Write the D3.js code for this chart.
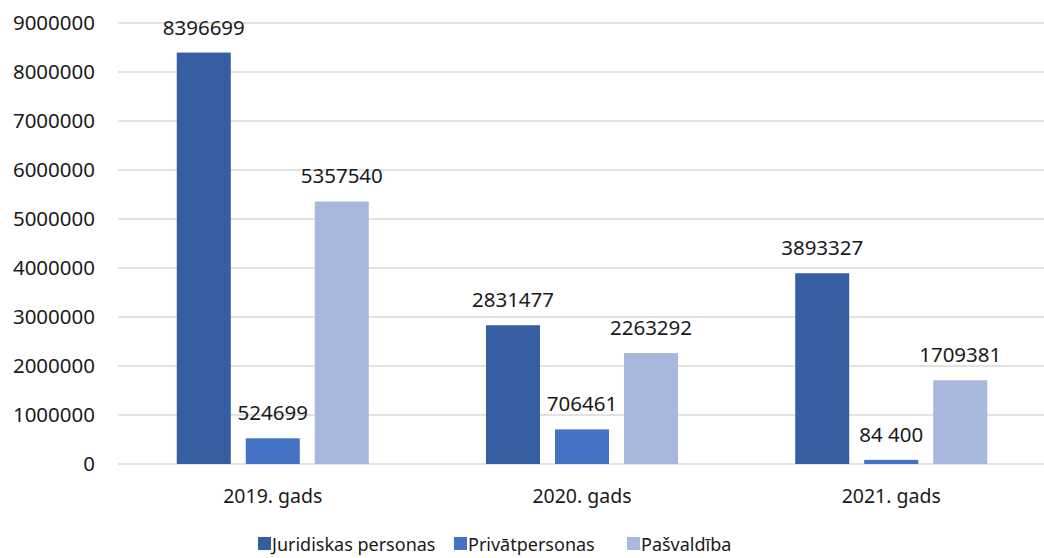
<!DOCTYPE html>
<html>
<head>
<meta charset="utf-8">
<script src="https://cdn.jsdelivr.net/npm/d3@7"></script>
<style>
  body { margin: 0; background: #fff; }
  svg text { font-family: "Noto Sans", "Open Sans", sans-serif; fill: #1a1a1a; }
</style>
</head>
<body>
<svg id="chart" width="1044" height="558"></svg>
<script>
// years on the x axis
var years = ["2019. gads", "2020. gads", "2021. gads"];
// series
var seriesNames = ["Juridiskas personas", "Privātpersonas", "Pašvaldība"];
var juridiskas = [8396699, 2831477, 3893327];
var privat = [524699, 706461, 84400];
var pasvaldiba = [5357540, 2263292, 1709381];
var yTicks = [0, 1000000, 2000000, 3000000, 4000000, 5000000, 6000000, 7000000, 8000000, 9000000];
// one label in the source is written with a space
var labelText = { 84400: "84 400" };

var colors = ["#365EA2", "#4472C4", "#A8B7DC"];
var seriesValues = [juridiskas, privat, pasvaldiba];

var m = { left: 118, right: 1046, top: 23, bottom: 464 };
var svg = d3.select("#chart");

var y = d3.scaleLinear().domain([0, 9000000]).range([m.bottom, m.top]);
var x0 = d3.scaleBand().domain(years).range([m.left, m.right]).paddingInner(0.379).paddingOuter(0.19);
var x1 = d3.scaleBand().domain(seriesNames).range([0, x0.bandwidth()]).paddingInner(0.217);

// gridlines
svg.append("g").selectAll("line")
  .data(yTicks)
  .join("line")
  .attr("x1", m.left).attr("x2", m.right)
  .attr("y1", function(d) { return y(d); })
  .attr("y2", function(d) { return y(d); })
  .attr("stroke", "#d9d9d9")
  .attr("stroke-width", 1.5);

// y axis labels
svg.append("g").selectAll("text")
  .data(yTicks)
  .join("text")
  .attr("x", 95)
  .attr("y", function(d) { return y(d); })
  .attr("dy", "0.35em")
  .attr("text-anchor", "end")
  .attr("font-size", 20.5)
  .text(function(d) { return d; });

// bars
var groups = svg.append("g").selectAll("g")
  .data(years)
  .join("g")
  .attr("transform", function(d) { return "translate(" + x0(d) + ",0)"; });

var cells = groups.selectAll("g")
  .data(function(d, i) {
    return seriesNames.map(function(s, j) { return { s: s, j: j, v: seriesValues[j][i] }; });
  })
  .join("g");

cells.append("rect")
  .attr("x", function(d) { return x1(d.s); })
  .attr("width", x1.bandwidth())
  .attr("y", function(d) { return y(d.v); })
  .attr("height", function(d) { return y(0) - y(d.v); })
  .attr("fill", function(d) { return colors[d.j]; });

cells.append("text")
  .attr("x", function(d) { return x1(d.s) + x1.bandwidth() / 2; })
  .attr("y", function(d) { return y(d.v) - 18; })
  .attr("text-anchor", "middle")
  .attr("font-size", 20.5)
  .text(function(d) { return labelText[d.v] || String(d.v); });

// x axis labels
svg.append("g").selectAll("text")
  .data(years)
  .join("text")
  .attr("x", function(d) { return x0(d) + x0.bandwidth() / 2; })
  .attr("y", 503)
  .attr("text-anchor", "middle")
  .attr("font-size", 19.5)
  .text(function(d) { return d; });

// legend
var legendX = [258, 454, 627];
var legend = svg.append("g").selectAll("g")
  .data(seriesNames)
  .join("g")
  .attr("transform", function(d, i) { return "translate(" + legendX[i] + ",537)"; });
legend.append("rect")
  .attr("width", 13).attr("height", 13)
  .attr("fill", function(d, i) { return colors[i]; });
legend.append("text")
  .attr("x", 14)
  .attr("y", 14)
  .attr("font-size", 18)
  .text(function(d) { return d; });
</script>
</body>
</html>
